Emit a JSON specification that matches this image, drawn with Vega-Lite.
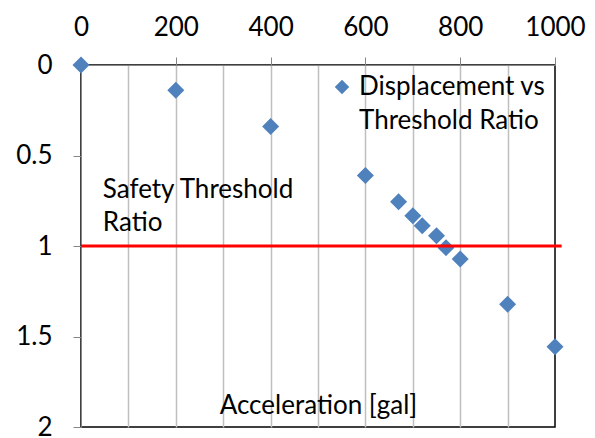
{
  "$schema": "https://vega.github.io/schema/vega-lite/v6.json",
  "width": 474,
  "height": 362,
  "autosize": {"type": "none"},
  "padding": {"left": 81, "top": 65, "right": 40, "bottom": 11},
  "background": "#ffffff",
  "config": {
    "font": "Lato",
    "view": {"stroke": "#000000", "strokeWidth": 1.5},
    "style": {"guide-label": {"lineHeight": 34}},
    "axis": {"labelFont": "Lato", "labelFontSize": 26, "labelColor": "#000000", "domainColor": "#868686", "tickColor": "#868686", "tickSize": 8, "titleFont": "Lato", "titleFontWeight": "normal", "titleFontSize": 26, "titleColor": "#000000"},
    "legend": {"labelFont": "Lato", "labelFontSize": 26, "labelColor": "#000000"}
  },
  "data": {
    "values": [
      {"acc": 0, "ratio": 0, "series": "Displacement vs Threshold Ratio"},
      {"acc": 200, "ratio": 0.14, "series": "Displacement vs Threshold Ratio"},
      {"acc": 400, "ratio": 0.34, "series": "Displacement vs Threshold Ratio"},
      {"acc": 600, "ratio": 0.61, "series": "Displacement vs Threshold Ratio"},
      {"acc": 670, "ratio": 0.755, "series": "Displacement vs Threshold Ratio"},
      {"acc": 700, "ratio": 0.833, "series": "Displacement vs Threshold Ratio"},
      {"acc": 720, "ratio": 0.888, "series": "Displacement vs Threshold Ratio"},
      {"acc": 750, "ratio": 0.943, "series": "Displacement vs Threshold Ratio"},
      {"acc": 770, "ratio": 1.009, "series": "Displacement vs Threshold Ratio"},
      {"acc": 800, "ratio": 1.072, "series": "Displacement vs Threshold Ratio"},
      {"acc": 900, "ratio": 1.322, "series": "Displacement vs Threshold Ratio"},
      {"acc": 1000, "ratio": 1.556, "series": "Displacement vs Threshold Ratio"}
    ]
  },
  "layer": [
    {
      "mark": {"type": "point", "shape": "diamond", "filled": true, "size": 289, "opacity": 1},
      "encoding": {
        "x": {
          "field": "acc", "type": "quantitative",
          "scale": {"domain": [0, 1000], "nice": false},
          "axis": {
            "orient": "top",
            "format": "d",
            "values": [0, 100, 200, 300, 400, 500, 600, 700, 800, 900, 1000],
            "labelExpr": "datum.value % 200 === 0 ? datum.label : ''",
            "tickOpacity": {"condition": {"test": "datum.value % 200 !== 0", "value": 0}, "value": 1},
            "grid": true,
            "gridColor": "#bfbfbf",
            "gridWidth": 1.5,
            "gridOpacity": {"condition": {"test": "datum.value === 1000 || datum.value === 0", "value": 0}, "value": 1},
            "labelPadding": 17,
            "labelFlush": false,
            "labelOverlap": false,
            "title": "Acceleration [gal]",
            "titleX": 237,
            "titleY": 348,
            "titleAlign": "center",
            "titleBaseline": "alphabetic"
          }
        },
        "y": {
          "field": "ratio", "type": "quantitative",
          "scale": {"domain": [0, 2], "nice": false, "reverse": true},
          "axis": {
            "orient": "left",
            "format": "~g",
            "values": [0, 0.5, 1, 1.5, 2],
            "grid": false,
            "labelPadding": 21,
            "title": null
          }
        },
        "color": {
          "field": "series", "type": "nominal",
          "scale": {"range": ["#4F81BD"]},
          "legend": {
            "orient": "none",
            "legendX": 248,
            "legendY": 9,
            "title": null,
            "padding": 0,
            "symbolType": "diamond",
            "symbolSize": 210,
            "symbolStrokeWidth": 0,
            "labelOffset": 4,
            "labelLimit": 400,
            "labelExpr": "['Displacement vs', 'Threshold Ratio']"
          }
        }
      }
    },
    {
      "data": {"values": [{}]},
      "mark": {"type": "rule", "color": "#ff0000", "strokeWidth": 3, "clip": false},
      "encoding": {
        "y": {"datum": 1},
        "x": {"datum": 0},
        "x2": {"datum": 1014}
      }
    },
    {
      "data": {"values": [{}]},
      "mark": {"type": "text", "text": ["Safety Threshold", "Ratio"], "font": "Lato", "fontSize": 26, "color": "#000000", "align": "left", "baseline": "alphabetic", "lineHeight": 33},
      "encoding": {
        "x": {"datum": 46},
        "y": {"datum": 0.7365}
      }
    }
  ]
}
